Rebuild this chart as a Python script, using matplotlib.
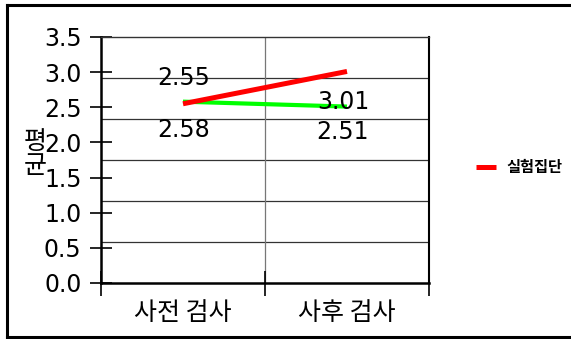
import numpy as np
import matplotlib
matplotlib.use("Agg")
from matplotlib import pyplot as plt
from matplotlib.lines import Line2D

plt.rcParams['font.family'] = ['DejaVu Sans', 'Noto Sans CJK KR']

categories = ['사전 검사', '사후 검사']
exp_group = [2.55, 3.01]      # 실험집단
ctrl_group = [2.58, 2.51]     # 비교집단 (not in legend)
yticks = [0.0, 0.5, 1.0, 1.5, 2.0, 2.5, 3.0, 3.5]

W, H = 571, 339
fig = plt.figure(figsize=(W / 100, H / 100), dpi=100)
ax = fig.add_axes([101 / W, (H - 283) / H, (429 - 101) / W, (283 - 37) / H])

x = np.arange(len(categories)) + 0.5

# horizontal grid lines on a sixth-step spacing
for g in np.arange(1, 6) * 3.5 / 6:
    ax.axhline(g, color='#333333', lw=0.9, zorder=1)
ax.axvline(1, color='#777777', lw=0.9, zorder=1)

ctrl, = ax.plot(x, ctrl_group, color='#00ff00', lw=3.0, solid_capstyle='butt', zorder=3)
exp, = ax.plot(x, exp_group, color='#ff0000', lw=3.6, solid_capstyle='butt', zorder=4)

# value labels
lab_kw = dict(textcoords='offset pixels', ha='center', va='center', fontsize=17,
              family=['DejaVu Sans'], zorder=5)
ax.annotate(f'{exp_group[0]:.2f}', (x[0], exp_group[0]), xytext=(1, 26), **lab_kw)
ax.annotate(f'{ctrl_group[0]:.2f}', (x[0], ctrl_group[0]), xytext=(1, -28), **lab_kw)
ax.annotate(f'{exp_group[1]:.2f}', (x[1], exp_group[1]), xytext=(-4, -31), **lab_kw)
ax.annotate(f'{ctrl_group[1]:.2f}', (x[1], ctrl_group[1]), xytext=(-4, -25), **lab_kw)

ax.set_xlim(0, 2)
ax.set_ylim(0, 3.5)
ax.set_yticks(yticks)
ax.set_yticklabels([f'{v:.1f}' for v in yticks], fontsize=17)
ax.tick_params(axis='y', direction='inout', length=16, width=1.2, pad=6)

ax.set_xticks([0, 1, 2])
ax.set_xticklabels([])
ax.set_xticks(x, minor=True)
ax.set_xticklabels(categories, minor=True, fontsize=18, family=['Noto Sans CJK KR'])
ax.tick_params(axis='x', which='major', direction='inout', length=18, width=1.2)
ax.tick_params(axis='x', which='minor', length=0, pad=12)

for s in ['left', 'bottom']:
    ax.spines[s].set_linewidth(1.8)
ax.spines['right'].set_linewidth(1.5)
ax.spines['top'].set_linewidth(1.0)
ax.spines['top'].set_color('#333333')

fig.text(35 / W, 1 - 154 / H, '평\n균', fontsize=18, family=['Noto Sans CJK KR'],
         ha='center', va='center', linespacing=0.9)

fig.legend([exp], ['실험집단'], loc='center left', bbox_to_anchor=(462 / W, 1 - 167 / H),
           frameon=False, handlelength=1.3, handletextpad=0.7,
           prop={'family': 'Noto Sans CJK KR', 'weight': 'bold', 'size': 11})

# outer frame
fig.add_artist(Line2D([7 / W, 7 / W], [2 / H, 1 - 5 / H], color='black', lw=2.2))
fig.add_artist(Line2D([7 / W, 1], [1 - 5 / H, 1 - 5 / H], color='black', lw=2.2))
fig.add_artist(Line2D([7 / W, 1], [2 / H, 2 / H], color='black', lw=2.2))

fig.savefig('out.png', dpi=100)
